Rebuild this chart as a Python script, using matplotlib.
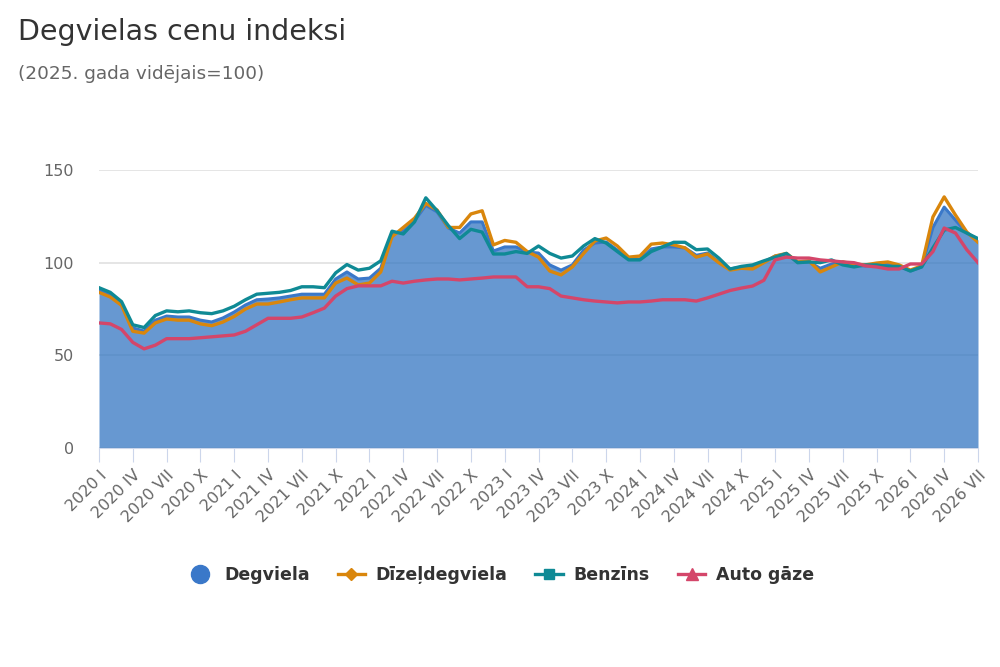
import matplotlib
matplotlib.use("Agg")
import matplotlib.pyplot as plt
from matplotlib.lines import Line2D
import numpy as np

plt.rcParams['font.family'] = ['DejaVu Sans']

roman = ["I", "II", "III", "IV", "V", "VI", "VII", "VIII", "IX", "X", "XI", "XII"]
months = [f"{y} {roman[m]}" for y in range(2020, 2027) for m in range(12)][:79]

degviela = [85.3, 82.6, 77.7, 64.8, 63.1, 69, 71.2, 70.7, 70.7, 69, 68, 70.2,
            73.4, 77.2, 80, 80.4, 81, 82, 83, 83, 83, 91.2, 95, 91.2,
            91.7, 97, 115.5, 117, 122.5, 131, 127.4, 118.7, 116, 122, 122, 106.3,
            108.5, 108.5, 105.8, 105.2, 98.8, 96, 98.8, 106.8, 110.6, 111.2, 106.8, 102,
            102, 107.4, 108.5, 108.5, 108, 104, 105.2, 100.4, 96.6, 97.7, 97.7, 100.4,
            103.6, 104.7, 100.4, 100.4, 97, 99.3, 100.4, 98.8, 98.2, 98.8, 99.3, 98.2,
            95.5, 97.7, 119, 130, 123, 116, 112.3]

dizel = [84, 81.5, 77, 63, 62, 67.5, 69.6, 69, 69, 67, 66, 68,
         71, 75, 77.7, 77.7, 78.8, 80, 81, 81, 81, 89, 91.7, 88,
         89, 95, 114, 119, 124, 132, 128.4, 119, 119, 126.3, 128, 109.6,
         112, 111, 106, 103, 95.5, 93.4, 97.7, 105, 111.7, 113.3, 109, 103,
         103.6, 110, 110.6, 109.6, 108, 103, 104.7, 100, 96, 97, 96.6, 100,
         103.6, 105, 100.4, 101, 95, 97.7, 100.4, 99.3, 98.8, 99.8, 100.4, 98.8,
         96, 98.3, 124.7, 135.5, 125.7, 116.6, 111]

benzins = [86.5, 84, 79, 66.5, 65, 71.5, 74, 73.5, 74, 73, 72.5, 74,
           76.5, 80, 83, 83.5, 84, 85, 87, 87, 86.5, 94.5, 99, 96,
           97, 101, 117, 115.5, 122, 135, 128, 120, 113, 118, 116.5, 104.7,
           104.7, 106, 105, 109, 105, 102.5, 103.6, 109, 113, 110.6, 106, 101.5,
           101.5, 106, 108.5, 111, 111, 107, 107.4, 102.5, 96.6, 98, 98.8, 101,
           103, 105, 100, 100.4, 100, 101.5, 98.8, 97.7, 98.8, 98.8, 98, 98,
           95.5, 97.7, 108, 117.6, 119, 116, 113]

autogaze = [67.5, 67, 64, 57, 53.5, 55.5, 59, 59, 59, 59.5, 60, 60.5,
            61, 63, 66.5, 70, 70, 70, 70.7, 73, 75.5, 82, 86, 87.5,
            87.5, 87.5, 90, 89, 90, 90.7, 91.2, 91.2, 90.7, 91.2, 91.7, 92.3,
            92.3, 92.3, 87, 87, 86, 82, 81, 80, 79.3, 78.8, 78.3, 78.8,
            78.8, 79.3, 80, 80, 80, 79.3, 81, 83, 85, 86.3, 87.4, 90.5,
            101.5, 103, 102.5, 102.5, 101.5, 101, 100.4, 100, 98.3, 97.7, 96.6, 96.6,
            99.3, 99.3, 106, 118.7, 116, 107, 100]

series_names = ["Degviela", "Dīzeļdegviela", "Benzīns", "Auto gāze"]
c_fill = "#3476c2"
c_blue = "#3a78c9"
c_orange = "#d9860c"
c_teal = "#0f8a95"
c_red = "#d4466a"

fig = plt.figure(figsize=(10, 6.67), dpi=100)
ax = fig.add_axes([0.099, 0.3283, 0.879, 0.4168])

x = np.arange(len(months))
ax.fill_between(x, 0, degviela, color=c_fill, alpha=0.75, linewidth=0, zorder=2)
ax.plot(x, degviela, color=c_blue, lw=2.2, zorder=3)
ax.plot(x, dizel, color=c_orange, lw=2.4, zorder=4)
ax.plot(x, benzins, color=c_teal, lw=2.4, zorder=5)
ax.plot(x, autogaze, color=c_red, lw=2.4, zorder=6)

ax.set_xlim(0, len(months) - 1)
ax.set_ylim(0, 150)
ax.set_yticks([0, 50, 100, 150])
ax.yaxis.grid(True, color="#e0e0e0", lw=1.2, zorder=1)
ax.set_axisbelow(True)
for s in ["top", "right", "left"]:
    ax.spines[s].set_visible(False)
ax.spines["bottom"].set_color("#ccd6eb")
ax.spines["bottom"].set_zorder(7)
ax.tick_params(axis="y", length=0, pad=18, labelsize=11.5, labelcolor="#666666")
tick_idx = list(range(0, len(months), 3))
ax.set_xticks(tick_idx)
ax.set_xticklabels([months[i] for i in tick_idx], rotation=45, ha="right",
                   rotation_mode="anchor", fontsize=11.5, color="#666666")
ax.tick_params(axis="x", length=10, color="#ccd6eb", pad=4)

fig.text(0.018, 0.94, "Degvielas cenu indeksi", fontsize=20.5, color="#333333",
         ha="left", va="baseline")
fig.text(0.018, 0.881, "(2025. gada vidējais=100)", fontsize=13.3, color="#666666",
         ha="left", va="baseline")

handles = [
    Line2D([], [], color=c_blue, marker="o", markersize=13, lw=0),
    Line2D([], [], color=c_orange, marker="D", markersize=6, lw=2.4),
    Line2D([], [], color=c_teal, marker="s", markersize=7, lw=2.4),
    Line2D([], [], color=c_red, marker="^", markersize=8, lw=2.4),
]
leg = fig.legend(handles, series_names, loc="center", bbox_to_anchor=(0.5, 0.138),
                 ncol=4, frameon=False, handlelength=1.6, columnspacing=1.6,
                 handletextpad=0.6,
                 prop={"weight": "bold", "size": 12.5})
for t in leg.get_texts():
    t.set_color("#333333")

fig.savefig("out.png", dpi=100)
